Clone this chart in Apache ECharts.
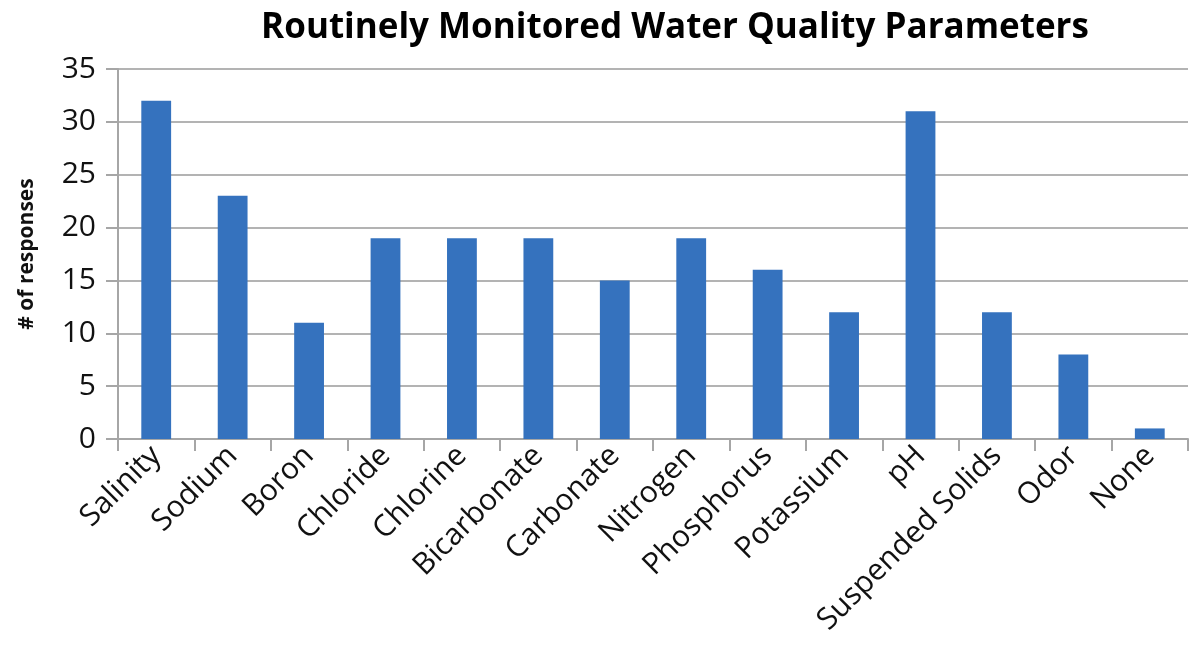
<!DOCTYPE html>
<html>
<head>
<meta charset="utf-8">
<script src="https://cdn.jsdelivr.net/npm/echarts@6/dist/echarts.min.js"></script>
<style>
  html, body { margin: 0; padding: 0; background: #fff; }
  #chart { width: 1190px; height: 656px; }
</style>
</head>
<body>
<div id="chart"></div>
<script>
// categories and values
var categories = ["Salinity", "Sodium", "Boron", "Chloride", "Chlorine", "Bicarbonate", "Carbonate",
  "Nitrogen", "Phosphorus", "Potassium", "pH", "Suspended Solids", "Odor", "None"];
var responses = [32, 23, 11, 19, 19, 19, 15, 19, 16, 12, 31, 12, 8, 1];

var myChart = echarts.init(document.getElementById("chart"));
var option = {
  backgroundColor: "#ffffff",
  title: {
    text: "Routinely Monitored Water Quality Parameters",
    left: 670,
    top: 6,
    textAlign: "center",
    textStyle: {
      fontFamily: "Open Sans",
      fontWeight: "bold",
      fontSize: 35,
      color: "#000"
    }
  },
  grid: {
    left: 118,
    right: 2,
    top: 69,
    bottom: 217,
    containLabel: false
  },
  xAxis: {
    type: "category",
    data: categories,
    axisLine: { lineStyle: { color: "#a6a6a6", width: 2 } },
    axisTick: { show: true, length: 12, lineStyle: { color: "#a6a6a6", width: 2 } },
    axisLabel: {
      interval: 0,
      rotate: 45,
      margin: 12,
      fontFamily: "Open Sans",
      fontSize: 30,
      color: "#111"
    },
    splitLine: { show: false }
  },
  yAxis: {
    type: "value",
    min: 0,
    max: 35,
    interval: 5,
    name: "# of responses",
    nameLocation: "middle",
    nameGap: 80,
    nameTextStyle: {
      fontFamily: "Open Sans",
      fontWeight: "bold",
      fontSize: 21,
      color: "#111"
    },
    axisLine: { show: true, lineStyle: { color: "#a6a6a6", width: 2 } },
    axisTick: { show: true, length: 12, lineStyle: { color: "#a6a6a6", width: 2 } },
    axisLabel: {
      margin: 22,
      fontFamily: "Open Sans",
      fontSize: 30,
      color: "#111"
    },
    splitLine: { show: true, lineStyle: { color: "#b3b3b3", width: 2 } }
  },
  series: [
    {
      type: "bar",
      data: responses,
      barWidth: "39%",
      itemStyle: { color: "#3572be" }
    }
  ]
};
myChart.setOption(option);
</script>
</body>
</html>
